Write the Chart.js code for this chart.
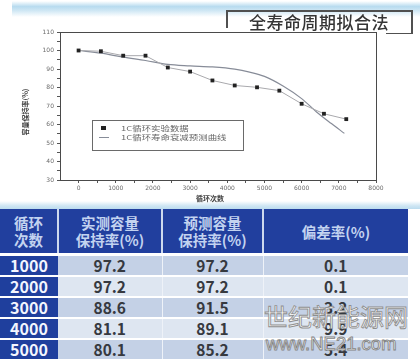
<!DOCTYPE html>
<html>
<head>
<meta charset="utf-8">
<script src="https://cdn.jsdelivr.net/npm/chart.js@4/dist/chart.umd.min.js"></script>
<style>
  html,body{margin:0;padding:0;background:#fff;width:420px;height:359px;overflow:hidden;position:relative;font-family:"Noto Sans CJK SC","Noto Sans",sans-serif;}
  #band{position:absolute;left:12px;top:1px;width:408px;height:16px;background:linear-gradient(to bottom,rgba(255,255,255,0) 0%,#b7dbef 35%,#cfe7f4 60%,rgba(255,255,255,0) 100%);}
  #band2{position:absolute;left:0;top:201px;width:420px;height:8px;background:linear-gradient(to bottom,rgba(255,255,255,0) 0%,#cfe6f3 60%,#bcdcef 100%);}
  #chartWrap{position:absolute;left:0;top:0;width:420px;height:205px;}
  .ln{position:absolute;background:#505050;}
  #title{position:absolute;left:226px;top:10px;width:186px;height:24px;line-height:24px;text-align:center;font-size:17px;color:#353535;font-weight:500;letter-spacing:0.5px;}
  table{position:absolute;left:0;top:209px;border-collapse:collapse;font-family:"Noto Sans CJK SC","Noto Sans",sans-serif;}
  td{padding:0;text-align:center;font-weight:bold;}
  .hd td{background:#213f9e;color:#c3d3f0;height:44px;font-size:14.5px;line-height:17px;border-bottom:3px solid #fff;}
  .hd td+td{border-left:2px solid #cdd9ee;}
  .r td{height:19px;font-size:15.5px;line-height:19px;color:#36393f;border-bottom:2px solid #fff;}
  .r td.c1{background:#1f3f9d;color:#f4f6ff;font-size:16px;}
  .r.a td.v{background:#c4d1e6;}
  .r.b td.v{background:#dee6f1;}
  .r td.v+td.v{border-left:1px solid #eef2f8;}
  #wm1{position:absolute;left:264px;top:301px;font-size:24px;line-height:30px;color:#fff;-webkit-text-stroke:0.9px #8f8f8f;font-family:"Noto Sans CJK SC",sans-serif;letter-spacing:0px;}
  #wm2{position:absolute;left:266px;top:334px;font-size:18.5px;line-height:20px;color:#fff;-webkit-text-stroke:0.9px #848484;font-family:"Liberation Sans",sans-serif;}
</style>
</head>
<body>
<div id="band"></div>
<div id="band2"></div>
<div id="chartWrap"><canvas id="c" width="420" height="205"></canvas></div>
<div class="ln" style="left:226px;top:10px;width:187px;height:1.5px"></div>
<div class="ln" style="left:226px;top:10px;width:1.5px;height:18px"></div>
<div class="ln" style="left:411px;top:10px;width:1.5px;height:24px"></div>
<div class="ln" style="left:386px;top:32.5px;width:27px;height:1.5px"></div>
<div id="title">全寿命周期拟合法</div>

<table id="tbl"></table>
<div id="wm1">世纪新能源网</div>
<div id="wm2">www.NE21.com</div>

<script>
// ---- chart data ----
const cycles = [0, 600, 1200, 1800, 2400, 3000, 3600, 4200, 4800, 5400, 6000, 6600, 7200];
const measured = [100, 99.6, 97.2, 97.2, 90.8, 88.6, 83.8, 81.1, 80.1, 78.3, 71.2, 65.8, 62.9];
const fitCycles = [0, 600, 1200, 1800, 2400, 3000, 3600, 4200, 4600, 5000, 5500, 6000, 6400, 6800, 7150];
const fitValues = [100, 98.6, 96.4, 94.6, 92.5, 91.7, 91.1, 89.9, 88.3, 86.0, 80.8, 74.0, 66.8, 60.5, 55.2];
const xTickLabels = [0, 1000, 2000, 3000, 4000, 5000, 6000, 7000, 8000];
const xTickMarks = [0, 500, 1000, 1500, 2000, 2500, 3000, 3500, 4000, 4500, 5000, 5500, 6000, 6500, 7000, 7500, 8000];
const yTickLabels = [30, 40, 50, 60, 70, 80, 90, 100, 110];
const yTickMarks = [30, 35, 40, 45, 50, 55, 60, 65, 70, 75, 80, 85, 90, 95, 100, 105, 110];
const seriesNames = ["1C循环实验数据", "1C循环寿命衰减预测曲线"];
const xTitle = "循环次数";
const yTitle = "容量保持率(%)";

// ---- table data ----
const tableHeaders = ["循环<br>次数", "实测容量<br>保持率(%)", "预测容量<br>保持率(%)", "偏差率(%)"];
const tableCycles = [1000, 2000, 3000, 4000, 5000];
const tableMeasured = ["97.2", "97.2", "88.6", "81.1", "80.1"];
const tablePredicted = ["97.2", "97.2", "91.5", "89.1", "85.2"];
const tableDeviation = ["0.1", "0.1", "3.2", "9.9", "5.4"];
const colWidths = [58, 104, 101, 145];

// build table
(function(){
  const t = document.getElementById('tbl');
  let h = '<colgroup>' + colWidths.map(w => '<col style="width:' + w + 'px">').join('') + '</colgroup>';
  h += '<tr class="hd">' + tableHeaders.map(x => '<td>' + x + '</td>').join('') + '</tr>';
  tableCycles.forEach((c, i) => {
    h += '<tr class="r ' + (i % 2 === 0 ? 'a' : 'b') + '"><td class="c1">' + c + '</td><td class="v">' + tableMeasured[i] +
      '</td><td class="v">' + tablePredicted[i] + '</td><td class="v">' + tableDeviation[i] + '</td></tr>';
  });
  t.innerHTML = h;
  t.style.width = colWidths.reduce((a, b) => a + b, 0) + 'px';
})();

const frame = {
  id: 'frame',
  afterDraw(chart) {
    const ctx = chart.ctx, a = chart.chartArea;
    ctx.save();
    ctx.strokeStyle = '#4a4a4a';
    ctx.lineWidth = 1;
    ctx.strokeRect(Math.round(a.left) + 0.5, Math.round(a.top) + 0.5, Math.round(a.right - a.left), Math.round(a.bottom - a.top));
    // legend box
    const lx = 92, ly = 120, lw = 151, lh = 30;
    ctx.fillStyle = '#fff';
    ctx.fillRect(lx, ly, lw, lh);
    ctx.strokeStyle = '#6a6a6a';
    ctx.strokeRect(lx + 0.5, ly + 0.5, lw, lh);
    const ds0 = chart.data.datasets[0], ds1 = chart.data.datasets[1];
    ctx.fillStyle = ds0.pointBackgroundColor;
    ctx.fillRect(101, 126, 5, 4);
    ctx.strokeStyle = ds1.borderColor;
    ctx.lineWidth = 1;
    ctx.beginPath(); ctx.moveTo(99, 137.5); ctx.lineTo(109, 137.5); ctx.stroke();
    ctx.fillStyle = '#666';
    ctx.font = '6.5px "Noto Sans CJK SC"';
    ctx.textBaseline = 'middle';
    [[ds0.label, 128.5], [ds1.label, 138]].forEach(([t, y]) => {
      ctx.save(); ctx.translate(121, y); ctx.scale(1.45, 1); ctx.fillText(t, 0, 0); ctx.restore();
    });
    // axis titles
    ctx.fillStyle = '#444';
    ctx.font = 'bold 7px "Noto Sans CJK SC"';
    ctx.textAlign = 'center';
    ctx.fillText(xTitle, 210, 198);
    ctx.save();
    ctx.translate(25, 112);
    ctx.rotate(-Math.PI / 2);
    ctx.fillText(yTitle, 0, 0);
    ctx.restore();
    ctx.restore();
  }
};

new Chart(document.getElementById('c'), {
  type: 'line',
  data: {
    datasets: [
      {
        label: seriesNames[0],
        data: cycles.map((x, i) => ({x, y: measured[i]})),
        borderColor: '#a9a9ad',
        borderWidth: 1,
        pointStyle: 'rect',
        pointRadius: 2.7,
        pointBackgroundColor: '#222',
        pointBorderColor: '#222',
        pointBorderWidth: 0,
        tension: 0
      },
      {
        label: seriesNames[1],
        data: fitCycles.map((x, i) => ({x, y: fitValues[i]})),
        borderColor: '#878c98',
        borderWidth: 1.2,
        pointRadius: 0,
        cubicInterpolationMode: 'monotone'
      }
    ]
  },
  options: {
    responsive: false,
    animation: false,
    devicePixelRatio: 1,
    layout: {padding: {left: 0, right: 44, top: 32, bottom: 0}},
    plugins: {legend: {display: false}, tooltip: {enabled: false}},
    scales: {
      x: {
        type: 'linear', min: -500, max: 8000,
        afterBuildTicks: s => { s.ticks = xTickMarks.map(v => ({value: v})); },
        afterFit: s => { s.height = 25; },
        ticks: {autoSkip: false, maxRotation: 0, padding: 2, color: '#6a6a6a', font: {size: 6, family: 'DejaVu Sans'},
          callback: v => xTickLabels.includes(v) ? String(v) : ''},
        grid: {drawOnChartArea: false, tickLength: 3, color: '#555'},
        border: {color: '#4a4a4a', width: 1}
      },
      y: {
        type: 'linear', min: 30, max: 110,
        afterBuildTicks: s => { s.ticks = yTickMarks.map(v => ({value: v})); },
        afterFit: s => { s.width = 60; },
        ticks: {autoSkip: false, padding: 3, color: '#6a6a6a', font: {size: 6, family: 'DejaVu Sans'},
          callback: v => yTickLabels.includes(v) ? String(v) : ''},
        grid: {drawOnChartArea: false, tickLength: 3, color: '#555'},
        border: {color: '#4a4a4a', width: 1}
      }
    }
  },
  plugins: [frame]
});
</script>
</body>
</html>
